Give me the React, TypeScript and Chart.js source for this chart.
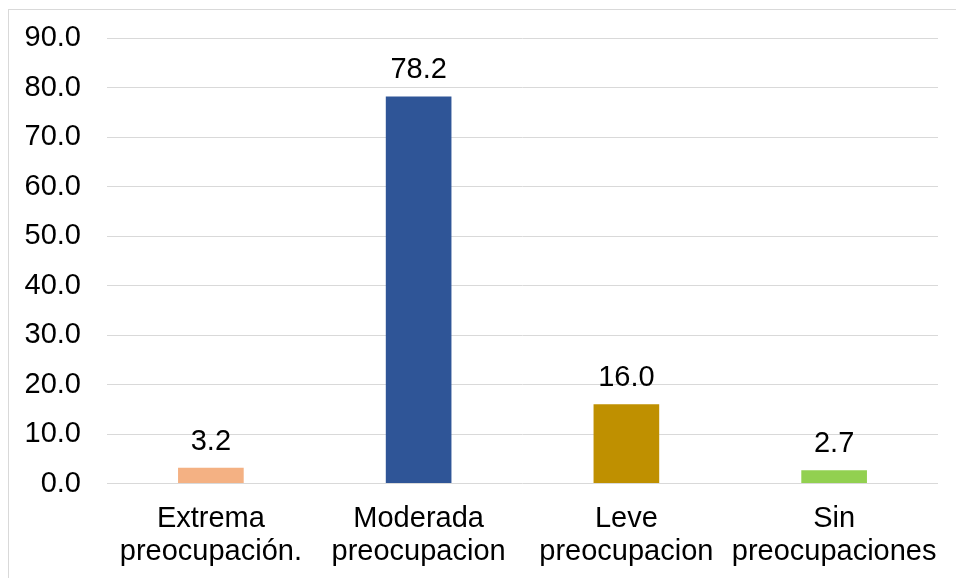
import React, { useEffect, useRef } from "react";
import { Chart, registerables } from "chart.js";

Chart.register(...registerables);

// Categories (two-line labels) and their percentages
const categories: string[][] = [
  ["Extrema", "preocupación."],
  ["Moderada", "preocupacion"],
  ["Leve", "preocupacion"],
  ["Sin", "preocupaciones"],
];
const values: number[] = [3.2, 78.2, 16.0, 2.7];
const barColors: string[] = ["#F4B183", "#2F5597", "#BF9000", "#92D050"];
const yMin = 0;
const yMax = 90;
const yStep = 10;

const FONT = "'Liberation Sans', Arial, Helvetica, sans-serif";

// Writes each bar's value centred above it
const valueLabels = {
  id: "valueLabels",
  afterDatasetsDraw(chart: any) {
    const { ctx } = chart;
    const meta = chart.getDatasetMeta(0);
    ctx.save();
    ctx.font = `29px ${FONT}`;
    ctx.fillStyle = "#000000";
    ctx.textAlign = "center";
    ctx.textBaseline = "alphabetic";
    meta.data.forEach((bar: any, i: number) => {
      ctx.fillText(values[i].toFixed(1), bar.x, bar.y - 18);
    });
    ctx.restore();
  },
};

export default function App() {
  const canvasRef = useRef<HTMLCanvasElement | null>(null);

  useEffect(() => {
    if (!canvasRef.current) return;
    const chart = new Chart(canvasRef.current, {
      type: "bar",
      data: {
        labels: categories,
        datasets: [
          {
            data: values,
            backgroundColor: barColors,
            borderWidth: 0,
            categoryPercentage: 1,
            barPercentage: 0.316,
          },
        ],
      },
      options: {
        animation: false,
        responsive: false,
        maintainAspectRatio: false,
        layout: { padding: { top: 28, right: 18, left: 0, bottom: 0 } },
        plugins: {
          legend: { display: false },
          tooltip: { enabled: false },
        },
        scales: {
          x: {
            grid: { display: false, drawTicks: false },
            border: { display: false },
            ticks: {
              color: "#000000",
              padding: 19,
              maxRotation: 0,
              autoSkip: false,
              font: { family: FONT, size: 29, lineHeight: 1.14 },
            },
            afterFit(scale: any) {
              scale.height = 94.5;
              scale.paddingLeft = 0;
              scale.paddingRight = 0;
            },
          },
          y: {
            min: yMin,
            max: yMax,
            grid: { color: "#D9D9D9", lineWidth: 1, drawTicks: false },
            border: { display: false },
            ticks: {
              stepSize: yStep,
              color: "#000000",
              padding: 26,
              font: { family: FONT, size: 29 },
              callback: (v: any) => Number(v).toFixed(1),
            },
            afterFit(scale: any) {
              scale.width = 98;
              scale.paddingTop = 0;
              scale.paddingBottom = 0;
            },
          },
        },
      },
      plugins: [valueLabels],
    });
    return () => chart.destroy();
  }, []);

  return (
    <div
      style={{
        position: "absolute",
        left: 8,
        top: 9,
        width: 948,
        height: 569,
        borderLeft: "1px solid #D9D9D9",
        borderTop: "1px solid #D9D9D9",
        background: "#FFFFFF",
      }}
    >
      <canvas ref={canvasRef} width={947} height={568} style={{ display: "block" }} />
    </div>
  );
}
